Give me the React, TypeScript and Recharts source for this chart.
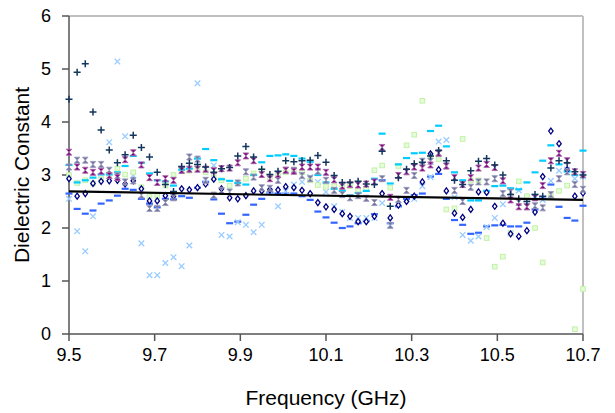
import React from "react";
import { ScatterChart, Scatter, XAxis, YAxis, ReferenceLine } from "recharts";

const freqs = [
  9.5, 9.519, 9.538, 9.556, 9.575, 9.594, 9.613, 9.631, 9.65, 9.669, 9.688, 9.706, 9.725, 9.744, 9.763, 9.781,
  9.8, 9.819, 9.838, 9.856, 9.875, 9.894, 9.913, 9.931, 9.95, 9.969, 9.988, 10.006, 10.025, 10.044, 10.063, 10.081,
  10.1, 10.119, 10.138, 10.156, 10.175, 10.194, 10.213, 10.231, 10.25, 10.269, 10.288, 10.306, 10.325, 10.344, 10.363, 10.381,
  10.4, 10.419, 10.438, 10.456, 10.475, 10.494, 10.513, 10.531, 10.55, 10.569, 10.588, 10.606, 10.625, 10.644, 10.663, 10.681,
  10.7,
];

const plusSeries = [
  4.43, 4.94, 5.1, 4.19, 3.85, 3.47, 3.23, 3.38, 3.75, 3.52, 3.34, 3.05, 2.82, 2.69, 3.16, 3.22,
  3.2, 3.15, 3.05, 3.12, 3.14, 3.36, 3.54, 3.34, 3.11, 3.01, 3.07, 3.27, 3.25, 3.27, 3.28, 3.37,
  3.24, 2.99, 2.86, 2.86, 2.88, 2.83, 2.82, 3.45, 2.41, 2.95, 3.11, 3.21, 3.24, 3.36, 3.46, 3.27,
  2.9, 2.82, 3.08, 3.26, 3.31, 3.19, 3.0, 2.63, 2.55, 2.5, 2.63, 2.6, 3.13, 3.27, 3.23, 3.06,
  3.0,
];

const purpleSeries = [
  3.43, 3.15, 3.09, 3.05, 3.07, 2.99, 2.95, 3.29, 3.42, 3.19, 2.95, 2.86, 2.93, 2.9, 3.09, 3.11,
  3.11, 3.11, 3.08, 3.12, 3.13, 3.23, 3.36, 3.27, 3.01, 2.93, 3.01, 3.09, 3.07, 3.15, 3.15, 3.15,
  3.05, 2.91, 2.79, 2.82, 2.81, 2.83, 2.87, 3.52, 2.58, 2.99, 3.06, 3.15, 3.13, 3.19, 3.41, 3.17,
  2.95, 2.82, 2.95, 3.13, 3.2, 3.14, 2.89, 2.53, 2.4, 2.4, 2.57, 2.8, 3.27, 3.41, 3.27, 3.06,
  3.01,
];

const graySeries = [
  3.15, 3.28, 3.28, 3.2, 3.2, 3.09, 2.99, 2.87, 2.89, 2.62, 2.37, 2.37, 2.48, 2.57, 3.09, 3.34,
  3.3, 2.9, 2.62, 2.71, 2.68, 2.85, 3.06, 2.96, 2.76, 2.75, 2.9, 3.09, 3.09, 2.99, 2.93, 3.07,
  2.9, 2.71, 2.63, 2.57, 2.61, 2.56, 2.48, 2.93, 2.05, 2.54, 2.71, 2.99, 3.26, 3.26, 3.42, 3.17,
  2.71, 2.5, 2.77, 2.87, 2.87, 2.93, 2.65, 2.68, 2.48, 2.4, 2.42, 2.38, 2.63, 2.93, 3.06, 2.82,
  2.73,
];

const cyanSeries = [
  3.19, 2.86, 2.9, 2.95, 3.01, 3.01, 3.05, 3.17, 3.36, 3.23, 3.03, 2.9, 2.88, 2.8, 3.1, 3.12,
  3.31, 3.49, 3.28, 2.92, 2.89, 2.85, 2.82, 3.0, 3.24, 3.36, 3.37, 3.39, 3.36, 3.31, 3.25, 3.0,
  2.86, 2.74, 2.7, 2.62, 2.66, 2.7, 2.93, 3.78, 2.84, 3.2, 3.32, 3.41, 3.42, 3.83, 3.93, 3.54,
  3.05, 2.9, 2.52, 2.52, 2.7, 2.79, 2.8, 2.75, 2.73, 2.86, 3.05, 3.27, 3.56, 3.2, 3.07, 3.0,
  3.46,
];

const blueSeries = [
  2.65, 2.36, 2.27, 2.33, 2.46, 2.52, 2.61, 2.74, 2.72, 2.55, 2.46, 2.39, 2.55, 2.54, 2.6, 2.57,
  2.76, 2.87, 2.54, 2.27, 2.09, 2.12, 2.25, 2.44, 2.55, 2.67, 2.65, 2.65, 2.65, 2.6, 2.53, 2.31,
  2.2, 2.1, 2.0, 2.03, 2.09, 2.13, 2.26, 2.9, 2.09, 2.41, 2.55, 2.62, 2.65, 2.97, 3.02, 2.55,
  2.15, 2.06, 1.89, 1.91, 2.03, 2.05, 2.06, 2.03, 2.03, 2.1, 2.35, 2.57, 2.82, 2.4, 2.19, 2.14,
  2.42,
];

const lightBlueSeries = [
  2.55, 1.94, 1.56, 2.22, 2.92, 3.62, 5.14, 3.73, 2.99, 1.71, 1.11, 1.11, 1.34, 1.45, 1.28, 1.67,
  4.73, 2.85, 3.18, 1.87, 1.84, 2.11, 2.06, 1.92, 2.06, 2.7, 2.41, 2.7, 2.82, 2.87, 2.96, 2.87,
  2.68, 2.41, 2.3, 2.19, 2.19, 2.19, 2.19, 2.47, 2.05, 2.43, 2.55, 2.55, 2.79, 2.96, 3.63, 3.66,
  2.58, 1.87, 1.76, 1.84, 2.02, 2.19, 2.45, 1.9, 2.71, 2.57, 2.6, 2.53, 2.89, 3.08, 3.1, 2.93,
  2.97,
];

const greenSeries = [
  3.0, 2.85, 2.9, 2.84, 2.92, 3.0, 3.12, 3.01, 3.05, 2.77, 2.6, 2.6, 2.8, 3.0, 3.07, 3.08,
  3.12, 3.05, 2.95, 2.9, 2.8, 2.85, 2.93, 3.03, 3.08, 2.95, 3.0, 3.05, 3.1, 3.05, 2.9, 2.81,
  2.78, 2.79, 2.77, 2.79, 2.72, 2.74, 3.09, 3.18, 2.76, 3.17, 3.56, 3.76, 4.4, 3.35, 3.3, 2.35,
  2.37, 3.68, 2.9, 2.9, 1.81, 1.27, 1.46, 1.9, 2.88, 2.6, 2.0, 1.35, 2.6, 2.7, 2.8, 0.09,
  0.85,
];

const diamondSeries = [
  2.93, 2.6, 2.65, 2.84, 2.88, 2.89, 2.9, 2.83, 2.89, 2.74, 2.51, 2.51, 2.61, 2.6, 2.74, 2.72,
  2.76, 2.83, 2.92, 2.74, 2.57, 2.55, 2.61, 2.7, 2.7, 2.72, 2.72, 2.78, 2.76, 2.71, 2.65, 2.48,
  2.4, 2.35, 2.27, 2.22, 2.12, 2.12, 2.22, 2.65, 2.19, 2.43, 2.5, 2.6, 2.87, 3.4, 3.1, 2.7,
  2.28, 2.2, 2.35, 2.68, 2.67, 2.41, 2.09, 1.89, 1.84, 1.95, 2.3, 2.97, 3.83, 3.59, 3.1, 2.6,
  2.66,
];

const trendFreqs = [9.5, 10.7];
const trendValues = [2.69, 2.53];

const xTicks = [9.5, 9.7, 9.9, 10.1, 10.3, 10.5, 10.7];
const yTicks = [0, 1, 2, 3, 4, 5, 6];

const build = (vals: number[]) => freqs.map((f, i) => ({ f, v: vals[i] }));
const trendData = trendFreqs.map((f, i) => ({ f, v: trendValues[i] }));

const FONT = "'Liberation Sans', Arial, sans-serif";

const PlusShape = (p: any) => (
  <path
    d={`M${p.cx - 3.5},${p.cy}H${p.cx + 3.5}M${p.cx},${p.cy - 3.5}V${p.cy + 3.5}`}
    stroke="#12365e"
    strokeWidth={1.5}
    fill="none"
  />
);

const makeHourglass = (fill: string, stroke: string) => (p: any) => (
  <path
    d={`M${p.cx - 2.8},${p.cy - 3}H${p.cx + 2.8}L${p.cx - 2.8},${p.cy + 3}H${p.cx + 2.8}Z`}
    fill={fill}
    stroke={stroke}
    strokeWidth={0.9}
  />
);

const makeDash = (color: string) => (p: any) => (
  <rect x={p.cx - 3.5} y={p.cy - 1.1} width={7} height={2.2} fill={color} />
);

const XShape = (p: any) => (
  <path
    d={`M${p.cx - 2.8},${p.cy - 2.8}L${p.cx + 2.8},${p.cy + 2.8}M${p.cx - 2.8},${p.cy + 2.8}L${p.cx + 2.8},${p.cy - 2.8}`}
    stroke="#99ccff"
    strokeWidth={1.3}
    fill="none"
  />
);

const SquareShape = (p: any) => (
  <rect x={p.cx - 2.3} y={p.cy - 2.3} width={4.6} height={4.6} fill="#e4ffd8" stroke="#c4f0a8" strokeWidth={1} />
);

const DiamondShape = (p: any) => (
  <path
    d={`M${p.cx},${p.cy - 3}L${p.cx + 2.2},${p.cy}L${p.cx},${p.cy + 3}L${p.cx - 2.2},${p.cy}Z`}
    stroke="#000080"
    strokeWidth={1.3}
    fill="#ffffff"
  />
);

const NoShape = () => <g />;

const PurpleShape = makeHourglass("#800080", "#a868a8");
const GrayShape = makeHourglass("#70709c", "#9a9abc");
const CyanShape = makeDash("#00ccff");
const BlueShape = makeDash("#3366ff");

export default function App() {
  return (
    <div style={{ position: "absolute", left: 0, top: 0, background: "#fff" }}>
      <ScatterChart width={615} height={413} margin={{ top: 16, right: 32, bottom: 8, left: 8 }}>
        <XAxis
          type="number"
          dataKey="f"
          domain={[9.5, 10.7]}
          ticks={xTicks}
          tickFormatter={(t: number) => String(t)}
          height={71}
          tickSize={7}
          tickMargin={7}
          axisLine={{ stroke: "#555", strokeWidth: 1.5 }}
          tickLine={{ stroke: "#555", strokeWidth: 1.5 }}
          tick={{ fill: "#000", fontSize: 18, fontFamily: FONT }}
          label={{ value: "Frequency (GHz)", position: "insideBottom", offset: 0, fill: "#000", fontSize: 21, fontFamily: FONT }}
        />
        <YAxis
          type="number"
          dataKey="v"
          domain={[0, 6]}
          ticks={yTicks}
          width={61}
          tickSize={7}
          tickMargin={11}
          axisLine={{ stroke: "#555", strokeWidth: 1.5 }}
          tickLine={{ stroke: "#555", strokeWidth: 1.5 }}
          tick={{ fill: "#000", fontSize: 18, fontFamily: FONT }}
          label={{
            value: "Dielectric Constant",
            angle: -90,
            position: "insideLeft",
            offset: 14,
            fill: "#000",
            fontSize: 21,
            fontFamily: FONT,
            style: { textAnchor: "middle" },
          }}
        />
        <ReferenceLine y={6} stroke="#c0c0c0" strokeWidth={2} />
        <ReferenceLine x={10.7} stroke="#c0c0c0" strokeWidth={2} />
        <Scatter data={build(blueSeries)} shape={BlueShape} isAnimationActive={false} />
        <Scatter data={build(lightBlueSeries)} shape={XShape} isAnimationActive={false} />
        <Scatter data={build(greenSeries)} shape={SquareShape} isAnimationActive={false} />
        <Scatter data={build(cyanSeries)} shape={CyanShape} isAnimationActive={false} />
        <Scatter data={build(diamondSeries)} shape={DiamondShape} isAnimationActive={false} />
        <Scatter data={build(graySeries)} shape={GrayShape} isAnimationActive={false} />
        <Scatter data={build(purpleSeries)} shape={PurpleShape} isAnimationActive={false} />
        <Scatter data={build(plusSeries)} shape={PlusShape} isAnimationActive={false} />
        <Scatter
          data={trendData}
          shape={NoShape}
          line={{ stroke: "#000", strokeWidth: 2.2 }}
          stroke="#000"
          isAnimationActive={false}
        />
      </ScatterChart>
    </div>
  );
}
